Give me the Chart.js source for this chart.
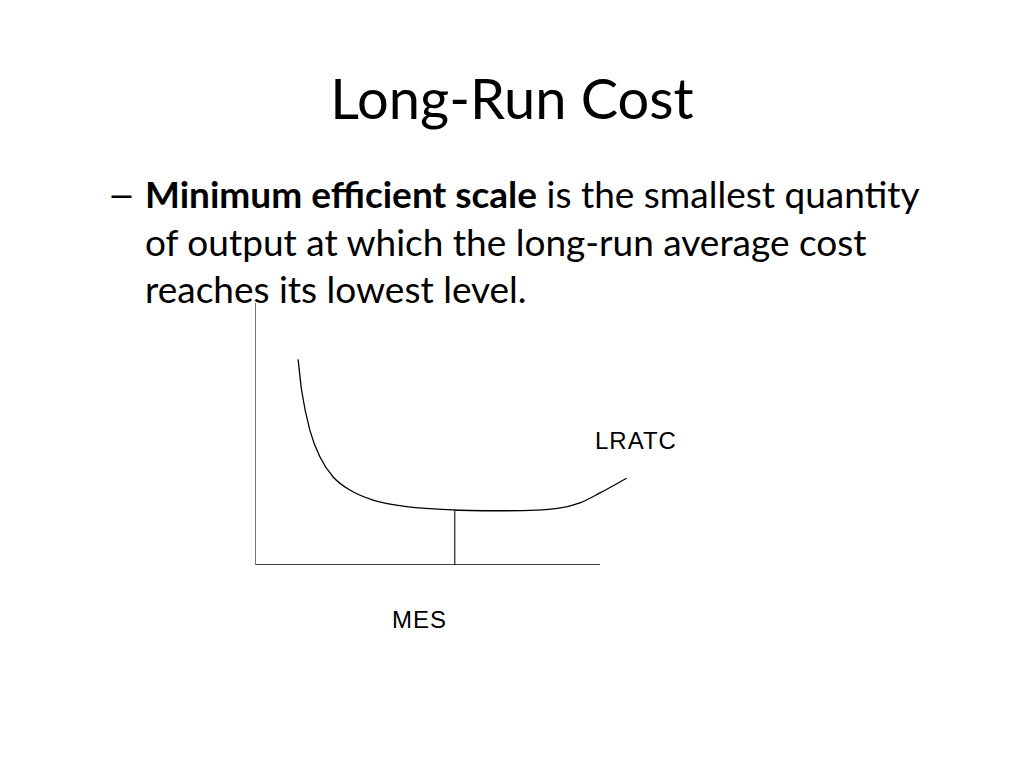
<!DOCTYPE html>
<html>
<head>
<meta charset="utf-8">
<script src="https://cdn.jsdelivr.net/npm/chart.js@4/dist/chart.umd.min.js"></script>
<style>
  html, body { margin: 0; padding: 0; background: #fff; }
  #slide { position: relative; width: 1024px; height: 768px; overflow: hidden; font-family: Lato, "Open Sans", sans-serif; color: #000; }
  #title { position: absolute; left: 0; width: 1024px; top: 63px; text-align: center; font-size: 56px; line-height: 70px; }
  #body { position: absolute; left: 145px; top: 170px; width: 870px; font-size: 37px; line-height: 47.5px; }
  #dash { position: absolute; left: 107px; top: 170px; font-size: 37px; line-height: 47.5px; transform: scaleX(1.35); transform-origin: left; }
  .lbl { position: absolute; font-family: "Liberation Sans", Arial, sans-serif; font-size: 24px; line-height: 24px; letter-spacing: 1px; }
  #chartBox { position: absolute; left: 200px; top: 280px; width: 500px; height: 320px; }
</style>
</head>
<body>
<div id="slide">
  <div id="title">Long-Run Cost</div>
  <div id="dash">–</div>
  <div id="body"><b>Minimum efficient scale</b> is the smallest quantity<br>of output at which the long-run average cost<br>reaches its lowest level.</div>
  <div class="lbl" style="left:595px; top:429px;">LRATC</div>
  <div class="lbl" style="left:392px; top:608px;">MES</div>
  <div id="chartBox"><canvas id="lrChart"></canvas></div>
</div>
<script>
// LRATC curve (x = output, y = cost, axes run 0-100)
const lratcX = [12.5, 13.5, 15.9, 18.8, 22.6, 27.5, 34.2, 44.0, 57.9, 73.0, 87.7, 94.2, 100, 107.7];
const lratcY = [78.5, 66.8, 51.5, 41.3, 33.7, 28.6, 24.8, 22.3, 21.0, 20.7, 21.6, 23.7, 27.5, 33.1];

// minimum efficient scale
const mesX = 57.9;
const mesY = 21.0;

// axis extents (the curve runs a little past the end of the x axis)
const axisXMax = 100;
const axisYMax = 100;
const scaleXMax = 110;

const pts = (xs, ys) => xs.map((x, i) => ({ x, y: ys[i] }));

new Chart(document.getElementById('lrChart'), {
  type: 'scatter',
  data: {
    datasets: [
      { label: 'y axis', data: pts([0, 0], [0, axisYMax]), showLine: true, borderColor: '#777', borderWidth: 2, pointRadius: 0 },
      { label: 'x axis', data: pts([0, axisXMax], [0, 0]), showLine: true, borderColor: '#000', borderWidth: 1.5, pointRadius: 0 },
      { label: 'MES', data: pts([mesX, mesX], [0, mesY]), showLine: true, borderColor: '#333', borderWidth: 1.3, pointRadius: 0 },
      { label: 'LRATC', data: pts(lratcX, lratcY), showLine: true, borderColor: '#000', borderWidth: 1.3,
        pointRadius: 0, cubicInterpolationMode: 'monotone', clip: false }
    ]
  },
  options: {
    responsive: true,
    maintainAspectRatio: false,
    animation: false,
    layout: { padding: { left: 55, right: 65.5, top: 23, bottom: 35 } },
    plugins: { legend: { display: false }, tooltip: { enabled: false } },
    scales: {
      x: { type: 'linear', min: 0, max: scaleXMax, display: false },
      y: { type: 'linear', min: 0, max: axisYMax, display: false }
    }
  }
});
</script>
</body>
</html>
